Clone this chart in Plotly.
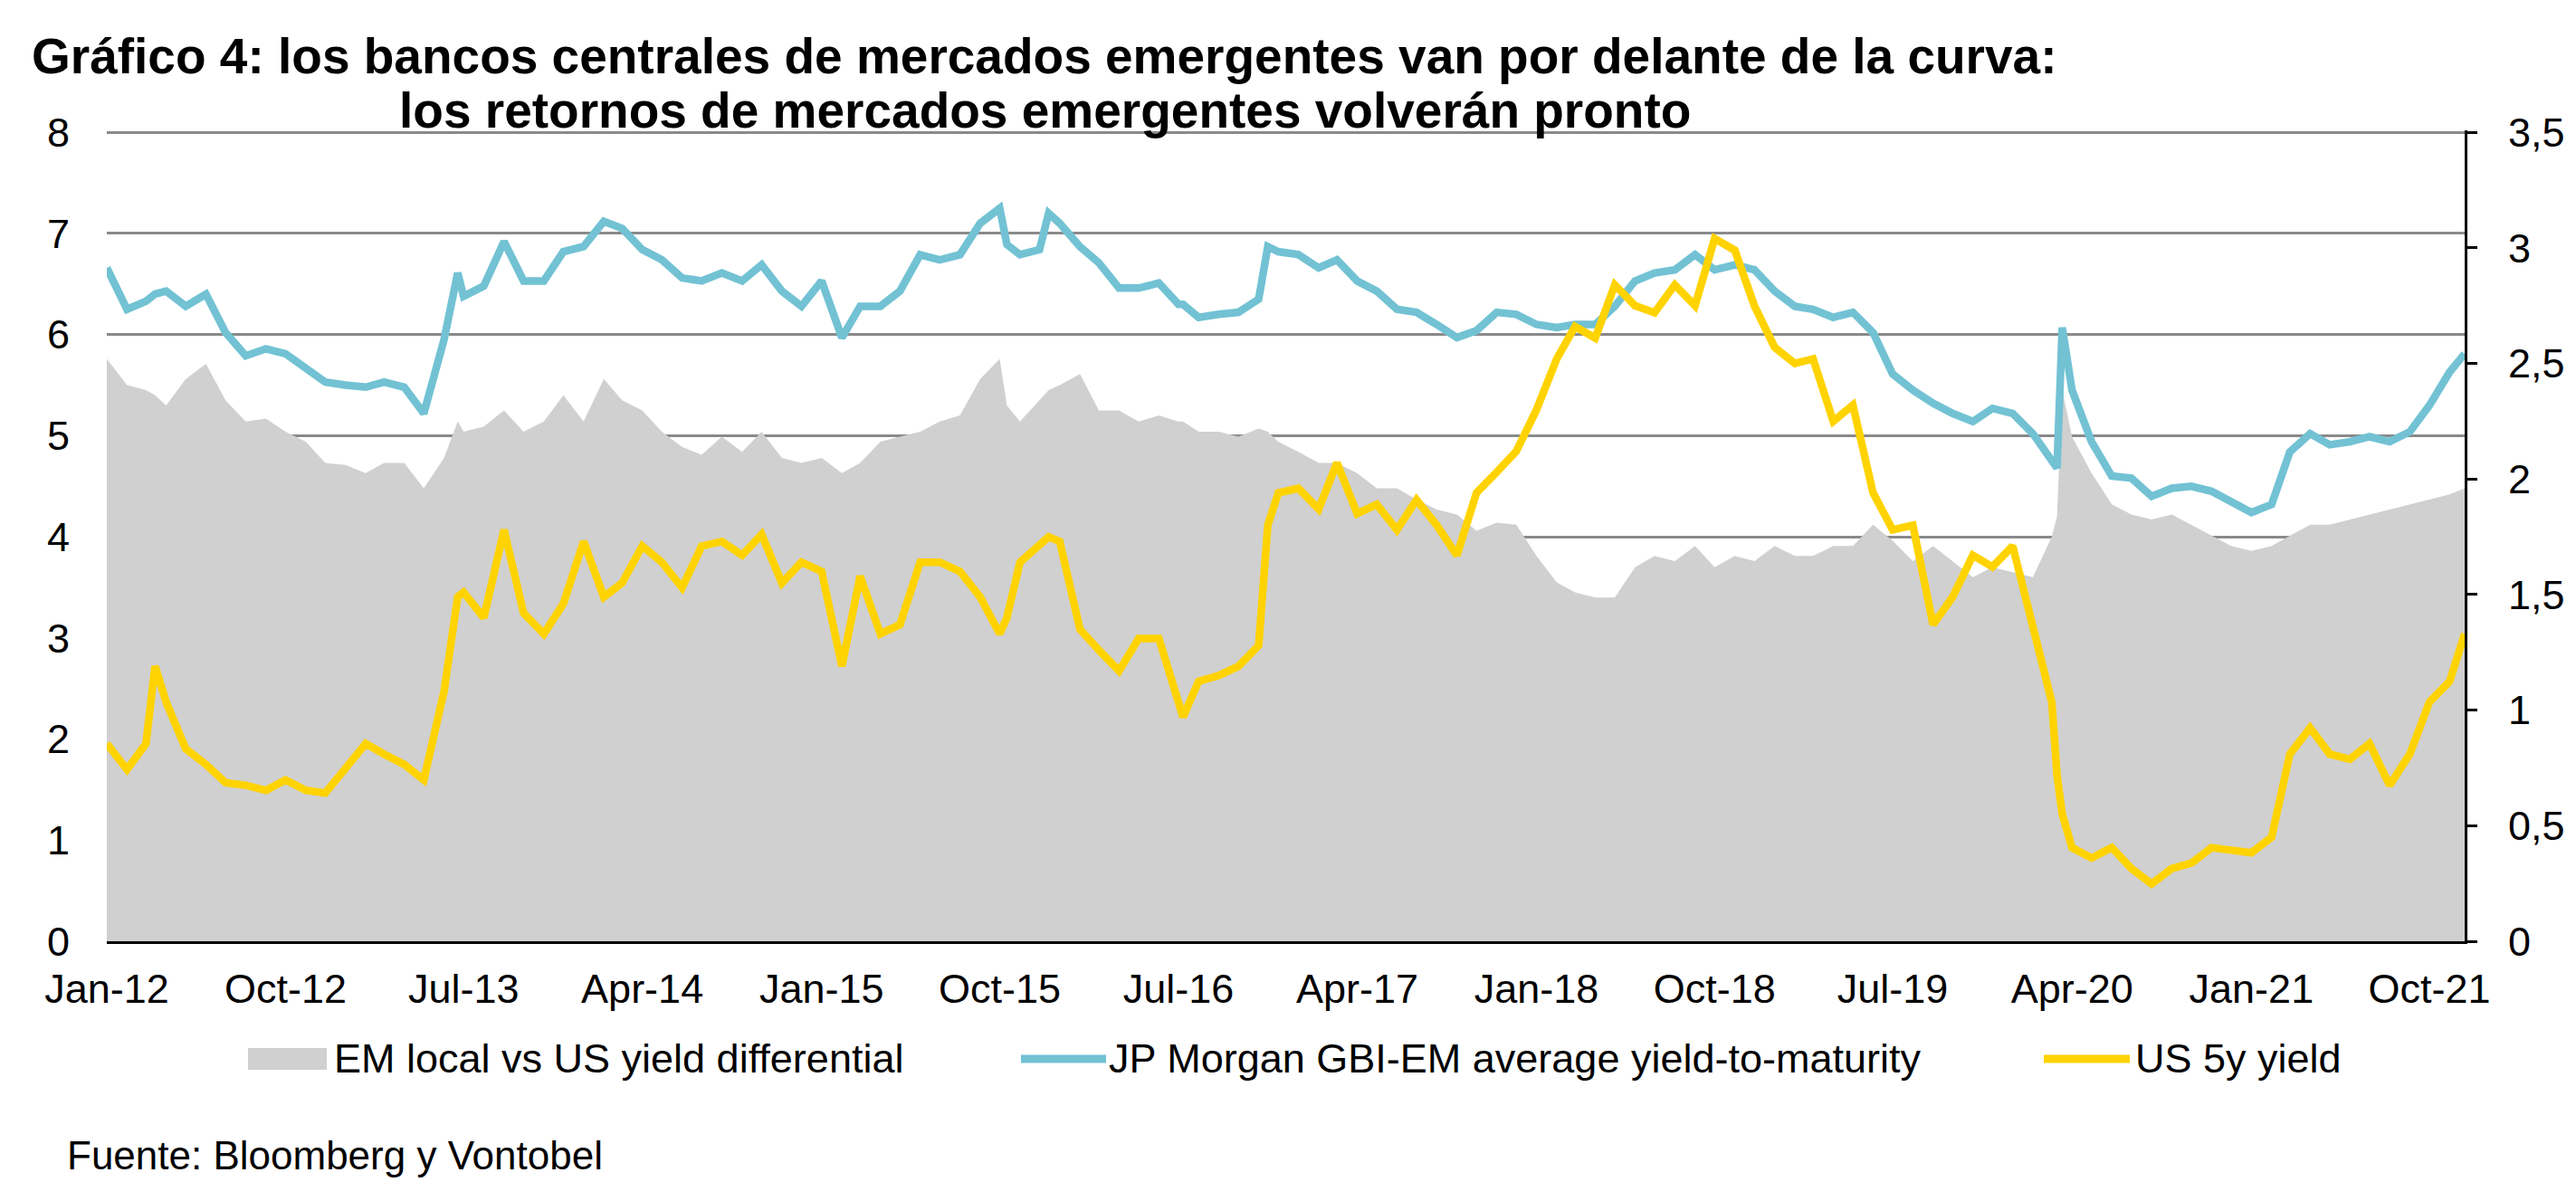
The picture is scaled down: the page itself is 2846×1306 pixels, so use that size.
import pandas as pd
import plotly.graph_objects as go

# ---------------- data ----------------
month_dates = pd.date_range("2012-01-01", periods=119, freq="MS")

gbi_em_ytm = [
    6.66, 6.25, 6.33, 6.43, 6.28, 6.40, 6.02, 5.79, 5.86, 5.81,
    5.66, 5.53, 5.50, 5.48, 5.53, 5.48, 5.22, 5.95, 6.38, 6.48,
    6.92, 6.53, 6.53, 6.82, 6.87, 7.12, 7.05, 6.84, 6.74, 6.56,
    6.53, 6.61, 6.53, 6.69, 6.43, 6.28, 6.53, 5.97, 6.28, 6.28,
    6.43, 6.79, 6.74, 6.79, 7.10, 7.25, 6.79, 6.84, 7.10, 6.87,
    6.71, 6.46, 6.46, 6.51, 6.30, 6.17, 6.20, 6.22, 6.35, 6.82,
    6.79, 6.66, 6.74, 6.53, 6.43, 6.25, 6.22, 6.10, 5.97, 6.04,
    6.22, 6.20, 6.10, 6.07, 6.10, 6.10, 6.28, 6.53, 6.61, 6.64,
    6.79, 6.64, 6.69, 6.64, 6.43, 6.28, 6.25, 6.17, 6.22, 6.02,
    5.61, 5.45, 5.32, 5.22, 5.14, 5.27, 5.22, 5.02, 4.73, 5.45,
    4.94, 4.60, 4.58, 4.40, 4.48, 4.50, 4.45, 4.35, 4.24, 4.32,
    4.84, 5.02, 4.91, 4.94, 4.99, 4.94, 5.04, 5.30, 5.63,
]

us_5y_yield = [
    0.855, 0.743, 0.855, 1.035, 0.833, 0.765, 0.686, 0.675, 0.653, 0.698,
    0.653, 0.641, 0.754, 0.855, 0.81, 0.765, 0.698, 1.08, 1.51, 1.40,
    1.78, 1.42, 1.33, 1.46, 1.73, 1.49, 1.55, 1.71, 1.64, 1.53,
    1.71, 1.73, 1.67, 1.76, 1.55, 1.64, 1.60, 1.19, 1.58, 1.33,
    1.37, 1.64, 1.64, 1.60, 1.49, 1.33, 1.64, 1.71, 1.73, 1.35,
    1.26, 1.17, 1.31, 1.31, 1.035, 1.125, 1.15, 1.19, 1.28, 1.94,
    1.96, 1.87, 2.07, 1.85, 1.89, 1.78, 1.91, 1.80, 1.67, 1.94,
    2.03, 2.12, 2.30, 2.52, 2.66, 2.61, 2.84, 2.75, 2.72, 2.84,
    2.75, 3.04, 2.99, 2.75, 2.57, 2.50, 2.52, 2.25, 2.32, 1.94,
    1.78, 1.80, 1.37, 1.49, 1.67, 1.62, 1.71, 1.37, 1.035, 0.405,
    0.36, 0.405, 0.315, 0.248, 0.315, 0.338, 0.405, 0.394, 0.383, 0.45,
    0.81, 0.923, 0.81, 0.788, 0.855, 0.675, 0.81, 1.035, 1.125,
]

yield_differential = [
    5.76, 5.50, 5.45, 5.30, 5.56, 5.71, 5.35, 5.14, 5.17, 5.04,
    4.94, 4.73, 4.71, 4.63, 4.73, 4.73, 4.48, 4.78, 5.04, 5.09,
    5.25, 5.04, 5.14, 5.40, 5.14, 5.56, 5.35, 5.25, 5.04, 4.89,
    4.81, 4.99, 4.84, 5.04, 4.78, 4.73, 4.78, 4.63, 4.73, 4.94,
    4.99, 5.04, 5.14, 5.20, 5.56, 5.76, 5.14, 5.35, 5.50, 5.61,
    5.25, 5.25, 5.14, 5.20, 5.14, 5.04, 5.04, 4.99, 5.07, 4.94,
    4.84, 4.73, 4.73, 4.63, 4.48, 4.48, 4.37, 4.27, 4.22, 4.06,
    4.14, 4.12, 3.81, 3.55, 3.45, 3.40, 3.40, 3.70, 3.81, 3.76,
    3.91, 3.70, 3.81, 3.76, 3.91, 3.81, 3.81, 3.91, 3.91, 4.12,
    3.96, 3.76, 3.91, 3.76, 3.60, 3.70, 3.65, 3.60, 4.00, 4.99,
    4.63, 4.32, 4.22, 4.17, 4.22, 4.12, 4.01, 3.91, 3.86, 3.91,
    4.01, 4.12, 4.12, 4.17, 4.22, 4.27, 4.32, 4.37, 4.42,
]

# extra readings at visible spikes / turning points and the last observation
extra_dates = ["2012-03-15", "2013-06-22", "2015-10-12", "2015-12-15", "2016-07-08",
               "2016-11-15", "2020-03-09", "2020-03-17", "2021-11-24"]
extra_gbi_em = [6.40, 6.61, 6.89, 7.20, 6.30, 6.87, 4.68, 6.07, 5.81]
extra_us_5y = [1.19, 1.49, 1.40, 1.75, 0.97, 1.80, 0.72, 0.55, 1.33]
extra_diff = [5.40, 5.14, 5.30, 5.45, 5.14, 5.04, 4.20, 5.45, 4.48]

tick_dates = ["2012-01-01", "2012-10-01", "2013-07-01", "2014-04-01", "2015-01-01",
              "2015-10-01", "2016-07-01", "2017-04-01", "2018-01-01", "2018-10-01",
              "2019-07-01", "2020-04-01", "2021-01-01", "2021-10-01"]
tick_labels = ["Jan-12", "Oct-12", "Jul-13", "Apr-14", "Jan-15", "Oct-15", "Jul-16",
               "Apr-17", "Jan-18", "Oct-18", "Jul-19", "Apr-20", "Jan-21", "Oct-21"]

left_ticks = [0, 1, 2, 3, 4, 5, 6, 7, 8]
right_ticks = [0, 0.5, 1, 1.5, 2, 2.5, 3, 3.5]

series_names = ["EM local vs US yield differential",
                "JP Morgan GBI-EM average yield-to-maturity",
                "US 5y yield"]

# ---------------- assemble ----------------
df = pd.concat([
    pd.DataFrame({"date": month_dates, "gbi": gbi_em_ytm, "us5": us_5y_yield,
                  "diff": yield_differential}),
    pd.DataFrame({"date": pd.to_datetime(extra_dates), "gbi": extra_gbi_em,
                  "us5": extra_us_5y, "diff": extra_diff}),
]).sort_values("date").reset_index(drop=True)

GRAY = "#d0d0d0"
BLUE = "#72c2d4"
YELLOW = "#ffd300"
GRID = "#8a8a8a"
FONT = "Liberation Sans, Arial, sans-serif"

W, H = 2846, 1306
PL, PR, PT, PB = 118, 2723, 144, 1040  # plot area in pixels
Y_TOP = 8.02             # a hair above 8 so the top gridline is drawn
Y2_TOP = 3.5 * Y_TOP / 8


def px_x(x):
    return (x - PL) / (PR - PL)


def px_y(y):
    return (PB - y) / (PB - PT)


fig = go.Figure()
fig.add_trace(go.Scatter(x=df["date"], y=df["diff"], name=series_names[0],
                         mode="lines", line=dict(width=0, color=GRAY),
                         fill="tozeroy", fillcolor=GRAY, yaxis="y", showlegend=False))
fig.add_trace(go.Scatter(x=df["date"], y=df["gbi"], name=series_names[1],
                         mode="lines", line=dict(width=8.5, color=BLUE),
                         yaxis="y", showlegend=False))
fig.add_trace(go.Scatter(x=df["date"], y=df["us5"], name=series_names[2],
                         mode="lines", line=dict(width=8.5, color=YELLOW),
                         yaxis="y2", showlegend=False))

fig.update_layout(
    width=W, height=H,
    margin=dict(l=PL, r=W - PR, t=PT, b=H - PB, pad=0),
    paper_bgcolor="white", plot_bgcolor="white",
    hovermode=False,
    font=dict(family=FONT, size=45, color="black"),
    xaxis=dict(type="date", range=["2012-01-01", "2021-11-24"],
               tickvals=tick_dates, ticktext=tick_labels, showgrid=False,
               showline=True, linecolor="black", linewidth=3, ticks="",
               ticklabelstandoff=11, zeroline=False,
               tickfont=dict(family=FONT, size=45, color="black")),
    yaxis=dict(range=[0, Y_TOP], tickvals=left_ticks,
               ticktext=[str(v) for v in left_ticks], showgrid=True,
               gridcolor=GRID, gridwidth=2.5, showline=False, zeroline=False,
               ticks="", ticklabelstandoff=40,
               tickfont=dict(family=FONT, size=45, color="black")),
    yaxis2=dict(range=[0, Y2_TOP], tickvals=right_ticks,
                ticktext=[f"{v:g}".replace(".", ",") for v in right_ticks],
                overlaying="y", side="right",
                showgrid=False, zeroline=False, showline=True, linecolor="black",
                linewidth=3, ticks="outside", ticklen=11, tickwidth=3,
                tickcolor="black", ticklabelstandoff=25,
                tickfont=dict(family=FONT, size=45, color="black")),
)

# title (two centred lines)
title_lines = ["Gráfico 4: los bancos centrales de mercados emergentes van por delante de la curva:",
               "los retornos de mercados emergentes volverán pronto"]
for txt, ypx in zip(title_lines, [62, 122]):
    fig.add_annotation(text=f"<b>{txt}</b>", xref="paper", yref="paper",
                       x=px_x(1154), y=px_y(ypx), xanchor="center", yanchor="middle",
                       showarrow=False, font=dict(family=FONT, size=55, color="black"))

# custom legend
LEG_Y = 1170
fig.add_shape(type="rect", xref="paper", yref="paper",
              x0=px_x(274), x1=px_x(361), y0=px_y(1182), y1=px_y(1158),
              fillcolor=GRAY, line=dict(width=0))
fig.add_shape(type="line", xref="paper", yref="paper",
              x0=px_x(1128), x1=px_x(1222), y0=px_y(LEG_Y), y1=px_y(LEG_Y),
              line=dict(color=BLUE, width=9))
fig.add_shape(type="line", xref="paper", yref="paper",
              x0=px_x(2258), x1=px_x(2353), y0=px_y(LEG_Y), y1=px_y(LEG_Y),
              line=dict(color=YELLOW, width=9))
for txt, xpx in zip(series_names, [367, 1223, 2357]):
    fig.add_annotation(text=txt, xref="paper", yref="paper", x=px_x(xpx), y=px_y(1169),
                       xanchor="left", yanchor="middle", showarrow=False,
                       font=dict(family=FONT, size=45, color="black"))

# source
fig.add_annotation(text="Fuente: Bloomberg y Vontobel", xref="paper", yref="paper",
                   x=px_x(72), y=px_y(1276), xanchor="left", yanchor="middle",
                   showarrow=False, font=dict(family=FONT, size=44, color="black"))

# remove the browser's default 8px body margin so the figure sits at (0, 0)
fig.write_html("out.html", config={"displayModeBar": False},
               post_script="document.body.style.margin='0';")
